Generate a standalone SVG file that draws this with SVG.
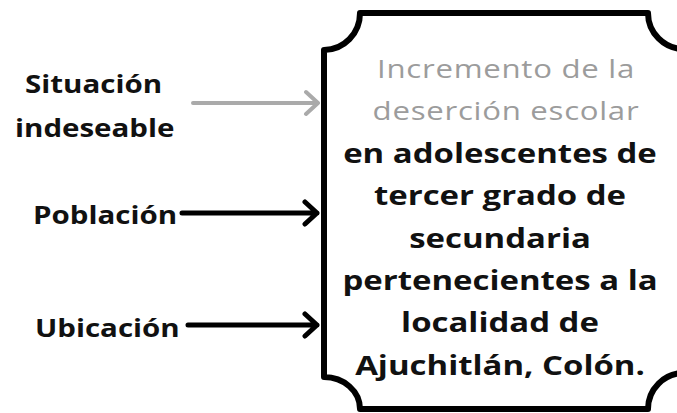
<svg xmlns="http://www.w3.org/2000/svg" width="677" height="413" viewBox="0 0 677 413">
<style>
.lbl{font-family:"Open Sans","Liberation Sans",sans-serif;font-weight:700;font-size:25px;fill:#111}
.main{font-family:"Open Sans","Liberation Sans",sans-serif;font-weight:700;font-size:27px;fill:#111;text-anchor:middle}
.soft{font-family:"Open Sans","Liberation Sans",sans-serif;font-weight:400;font-size:26px;fill:#9c9c9c;text-anchor:middle;letter-spacing:0.6px}
.box{fill:#fff;stroke:#000;stroke-width:6;stroke-linejoin:round}
.ar{fill:none;stroke:#000;stroke-width:5;stroke-linecap:round;stroke-linejoin:round}
.arg{fill:none;stroke:#aaa;stroke-width:4;stroke-linecap:round;stroke-linejoin:round}
</style>
<rect width="677" height="413" fill="#fff"/>
<g id="box">
<path class="box" d="M324,50 A36,37 0 0 0 360,13 L648,13 A36,36 0 0 0 684,49 L684,373 A36,36 0 0 0 648,409 L360,409 A36,32 0 0 0 324,377 Z"/>
<g transform="translate(506,0) scale(1.2,1)">
<text class="soft" x="0" y="78">Incremento de la</text>
<text class="soft" x="0" y="120">deserción escolar</text>
</g>
<g transform="translate(500,0) scale(1.22,1)">
<text class="main" x="0" y="163">en adolescentes de</text>
<text class="main" x="0" y="205">tercer grado de</text>
<text class="main" x="0" y="248">secundaria</text>
<text class="main" x="0" y="290">pertenecientes a la</text>
<text class="main" x="0" y="332">localidad de</text>
<text class="main" x="0" y="375">Ajuchitlán, Colón.</text>
</g>
</g>
<g id="situacion">
<text class="lbl" transform="translate(25,93) scale(1.18,1)">Situación</text>
<text class="lbl" transform="translate(15,137) scale(1.18,1)">indeseable</text>
</g>
<g id="poblacion"><text class="lbl" transform="translate(33,224) scale(1.18,1)">Población</text></g>
<g id="ubicacion"><text class="lbl" transform="translate(35,337) scale(1.18,1)">Ubicación</text></g>
<g id="connectors">
<path class="arg" d="M193,103 L318,103 M306,92 L318,103 L306,114"/>
<path class="ar" d="M182,213 L317,213 M305,202 L317,213 L305,224"/>
<path class="ar" d="M188,325 L317,325 M305,314 L317,325 L305,336"/>
</g>
</svg>
